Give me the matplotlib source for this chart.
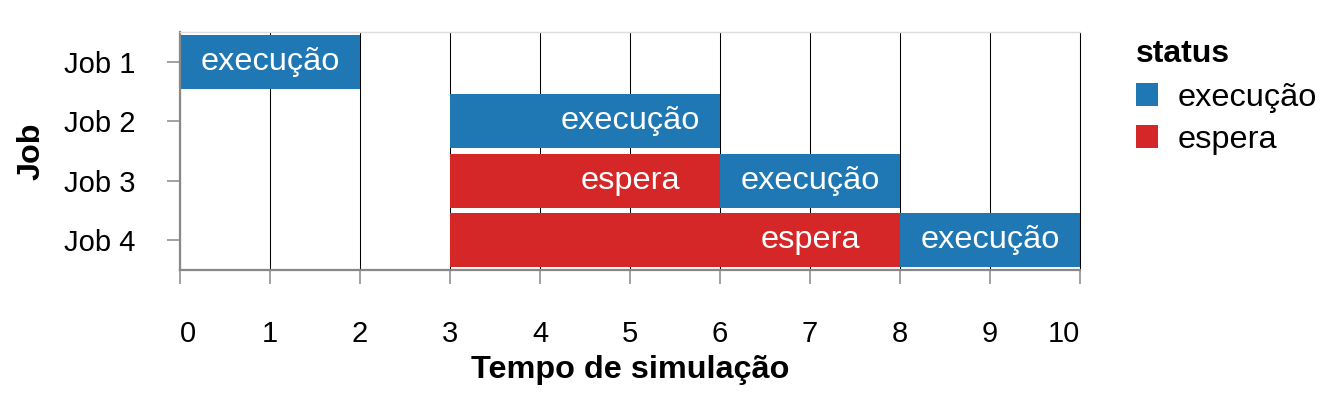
import matplotlib
matplotlib.use("Agg")
import matplotlib.pyplot as plt
from matplotlib.patches import Patch

plt.rcParams['font.family'] = ['Liberation Sans', 'DejaVu Sans']

jobs = ['Job 1', 'Job 2', 'Job 3', 'Job 4']
seg_job = [0, 1, 2, 2, 3, 3]
seg_start = [0, 3, 3, 6, 3, 8]
seg_end = [2, 6, 6, 8, 8, 10]
seg_status = ['execução', 'execução', 'espera', 'execução', 'espera', 'execução']
statuses = ['execução', 'espera']
colors = {'execução': '#1f77b4', 'espera': '#d62728'}
xticks = list(range(0, 11))

fig = plt.figure(figsize=(13.38, 4.05), dpi=100)
ax = fig.add_axes([180/1338, 135/405, 900/1338, 238/405])

for j, s, e, st in zip(seg_job, seg_start, seg_end, seg_status):
    ax.barh(j + 1, e - s, left=s, height=0.9, color=colors[st], zorder=2)
    ax.text(e - 1, j + 1, st, ha='center', va='center', color='white',
            fontsize=23.4, zorder=3)

ax.set_xlim(0, 10)
ax.set_ylim(4.5, 0.5)
ax.set_yticks(range(1, len(jobs) + 1))
ax.set_yticklabels(jobs)
ax.set_xticks(xticks)
ax.set_xticklabels([str(t) for t in xticks])
labs = ax.get_xticklabels()
labs[0].set_horizontalalignment('left')
labs[-1].set_horizontalalignment('right')

ax.grid(axis='x', color='black', linewidth=0.75, zorder=0)
ax.set_axisbelow(True)

for side in ['left', 'bottom']:
    ax.spines[side].set_color('#888888')
    ax.spines[side].set_linewidth(1.6)
ax.spines['top'].set_color('#dddddd')
ax.spines['top'].set_linewidth(1.0)
ax.spines['right'].set_color('black')
ax.spines['right'].set_linewidth(0.75)

ax.tick_params(axis='y', length=9.4, width=1.1, color='#888888', pad=23, labelsize=21)
ax.tick_params(axis='x', length=10, width=1.1, color='#888888', pad=26, labelsize=21)

ax.set_xlabel('Tempo de simulação', fontsize=23.3, fontweight='bold', labelpad=5)
ax.set_ylabel('Job', fontsize=23.3, fontweight='bold', labelpad=12)

handles = [Patch(facecolor=colors[s], edgecolor='none', label=s) for s in statuses]
leg = fig.legend(handles=handles, title='status', loc='upper left',
                 bbox_to_anchor=(1107/1338, 1 - 10/405), frameon=False,
                 fontsize=23.4, title_fontproperties={'weight': 'bold', 'size': 23},
                 handlelength=0.68, handleheight=0.7, handletextpad=0.6,
                 labelspacing=0.35, alignment='left')
leg._legend_box.sep = 10

fig.savefig('out.png', dpi=100)
